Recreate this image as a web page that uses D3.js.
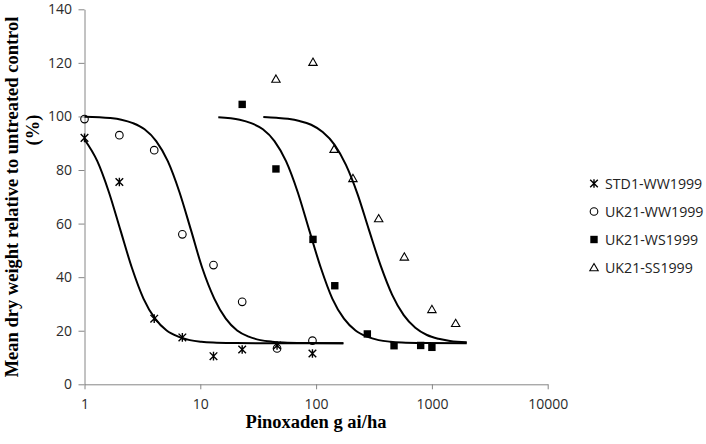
<!DOCTYPE html>
<html>
<head>
<meta charset="utf-8">
<script src="https://cdn.jsdelivr.net/npm/d3@7/dist/d3.min.js"></script>
<style>
  html, body { margin: 0; padding: 0; background: #fff; }
  svg { display: block; }
</style>
</head>
<body>
<svg id="chart" width="706" height="444"></svg>
<script>
// ---- Data ----
const seriesNames = ["STD1-WW1999", "UK21-WW1999", "UK21-WS1999", "UK21-SS1999"];

const doseSTD1 = [1, 2, 4, 7, 13, 23, 46, 93];
const valSTD1  = [92, 75.5, 24.5, 17.5, 10.5, 13, 14.5, 11.5];

const doseWW = [1, 2, 4, 7, 13, 23, 46, 93];
const valWW  = [99, 93, 87.4, 56, 44.5, 30.8, 13.4, 16.3];

const doseWS = [23, 45, 94, 145, 277, 471, 800, 1000];
const valWS  = [104.5, 80.4, 54.1, 36.8, 18.8, 14.4, 14.5, 13.8];

const doseSS = [45, 94, 143, 208, 347, 578, 1000, 1604];
const valSS  = [114, 120.3, 87.8, 76.9, 61.9, 47.6, 28, 22.8];

// fitted dose-response lines
const fitX_STD1 = [1, 1.29, 1.62, 2.04, 2.57, 3.23, 4.07, 5.12, 6.45, 8.12, 10.2, 12.9, 20.4, 40.7, 172];
const fitY_STD1 = [91.4, 83.3, 71.9, 57.65, 43.4, 32.0, 24.5, 20.1, 17.8, 16.5, 15.9, 15.6, 15.4, 15.3, 15.3];

const fitX_WW = [1, 1.66, 2.08, 2.62, 3.30, 4.16, 5.24, 6.59, 8.30, 10.4, 13.2, 16.6, 20.8, 26.2, 33.0, 41.6, 52.4, 83, 172];
const fitY_WW = [99.9, 99.4, 98.8, 97.5, 95.2, 90.8, 83.3, 71.9, 57.65, 43.4, 32.0, 24.5, 20.1, 17.8, 16.5, 15.9, 15.6, 15.4, 15.3];

const fitX_WS = [14.3, 21.9, 27.5, 34.7, 43.7, 55.0, 69.2, 87.1, 110, 138, 174, 219, 275, 347, 437, 550, 871, 2000];
const fitY_WS = [99.7, 98.8, 97.5, 95.2, 90.8, 83.3, 71.9, 57.65, 43.4, 32.0, 24.5, 20.1, 17.8, 16.5, 15.9, 15.6, 15.4, 15.3];

const fitX_SS = [35, 45.4, 57.1, 71.9, 90.6, 114, 144, 181, 228, 286, 361, 454, 571, 719, 906, 1140, 1435, 2000];
const fitY_SS = [99.8, 99.5, 99.1, 98.3, 96.9, 94.2, 89.5, 81.9, 71.0, 57.65, 44.3, 33.4, 25.8, 21.1, 18.4, 17.0, 16.2, 15.7];

const yTicks = [0, 20, 40, 60, 80, 100, 120, 140];
const xTicks = [1, 10, 100, 1000, 10000];
const xTitle = "Pinoxaden g ai/ha";
const yTitle1 = "Mean dry weight relative to untreated control";
const yTitle2 = "(%)";

// ---- Layout ----
const svg = d3.select("#chart");
const x = d3.scaleLog().domain([1, 10000]).range([84.5, 547.7]);
const y = d3.scaleLinear().domain([0, 140]).range([384.3, 9.3]);
const axisColor = "#868686";
const tickFont = "'Open Sans', 'Liberation Sans', sans-serif";
const titleFont = "'Liberation Serif', 'Times New Roman', serif";

// Y axis
const gy = svg.append("g").attr("transform", `translate(${x.range()[0]},0)`)
  .call(d3.axisLeft(y).tickValues(yTicks).tickSize(6).tickSizeOuter(0).tickPadding(6.5));
// X axis
const gx = svg.append("g").attr("transform", `translate(0,${y.range()[0]})`)
  .call(d3.axisBottom(x).tickValues(xTicks).tickFormat(d3.format("d")).tickSize(5).tickSizeOuter(0).tickPadding(10));

[gx, gy].forEach(g => {
  g.select(".domain").attr("stroke", axisColor).attr("stroke-width", 1);
  g.selectAll(".tick line").attr("stroke", axisColor);
  g.selectAll(".tick text").attr("fill", "#2b2b2b").style("font-family", tickFont).style("font-size", "14px");
});

// Axis titles
svg.append("text")
  .attr("x", 316).attr("y", 428)
  .attr("text-anchor", "middle")
  .style("font-family", titleFont)
  .style("font-weight", "bold").style("font-size", "18.5px")
  .text(xTitle);

svg.append("text")
  .attr("transform", "translate(17.5,197) rotate(-90)")
  .attr("text-anchor", "middle")
  .style("font-family", titleFont)
  .style("font-weight", "bold").style("font-size", "18.5px")
  .text(yTitle1);

svg.append("text")
  .attr("transform", "translate(38.5,130) rotate(-90)")
  .attr("text-anchor", "middle")
  .style("font-family", titleFont)
  .style("font-weight", "bold").style("font-size", "18.5px")
  .text(yTitle2);

// Fitted curves
const line = d3.line().x(d => x(d[0])).y(d => y(d[1])).curve(d3.curveMonotoneX);
const fits = [[fitX_STD1, fitY_STD1], [fitX_WW, fitY_WW], [fitX_WS, fitY_WS], [fitX_SS, fitY_SS]];
fits.forEach(([fx, fy]) => {
  svg.append("path")
    .datum(fx.map((v, i) => [v, fy[i]]))
    .attr("d", line)
    .attr("fill", "none")
    .attr("stroke", "#000")
    .attr("stroke-width", 2);
});

// Markers
function drawMarker(g, type) {
  if (type === 0) {
    g.append("path").attr("d", "M-3.8,-3.8L3.8,3.8M-3.8,3.8L3.8,-3.8M0,-4.3L0,4.3")
      .attr("stroke", "#000").attr("stroke-width", 1.4).attr("fill", "none");
  } else if (type === 1) {
    g.append("circle").attr("r", 3.8).attr("fill", "none").attr("stroke", "#000").attr("stroke-width", 1.1);
  } else if (type === 2) {
    g.append("rect").attr("x", -3.7).attr("y", -3.7).attr("width", 7.4).attr("height", 7.4).attr("fill", "#000");
  } else {
    g.append("path").attr("d", "M0,-4L4.2,3.3L-4.2,3.3Z")
      .attr("fill", "none").attr("stroke", "#000").attr("stroke-width", 1.1);
  }
}

const pts = [[doseSTD1, valSTD1], [doseWW, valWW], [doseWS, valWS], [doseSS, valSS]];
pts.forEach(([dx, dv], k) => {
  dx.forEach((d, i) => {
    const g = svg.append("g").attr("transform", `translate(${x(d)},${y(dv[i])})`);
    drawMarker(g, k);
  });
});

// Legend
const legendY = [183.5, 211.5, 239.5, 267.5];
seriesNames.forEach((name, k) => {
  const g = svg.append("g").attr("transform", `translate(594,${legendY[k]})`);
  drawMarker(g, k);
  g.append("text").attr("x", 11).attr("y", 5)
    .attr("fill", "#222")
    .style("font-family", tickFont).style("font-size", "14.2px")
    .text(name);
});
</script>
</body>
</html>
